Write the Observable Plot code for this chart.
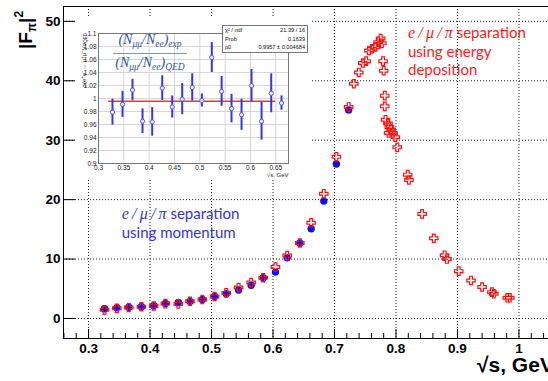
<!DOCTYPE html>
<html>
<head>
<meta charset="utf-8">
<script src="https://cdn.jsdelivr.net/npm/d3@7"></script>
<script src="https://cdn.jsdelivr.net/npm/@observablehq/plot@0.6"></script>
<style>
  html, body { margin: 0; padding: 0; background: #fff; }
  #chart { position: relative; width: 548px; height: 381px; overflow: hidden;
           font-family: "Liberation Sans", Arial, sans-serif; }
  #main { position: absolute; left: 0; top: 0; }
  #main svg text { font-weight: bold; }
  #inset { position: absolute; left: 75px; top: 17px; }
  .abs { position: absolute; white-space: nowrap; }
  .ytitle { left: 10px; top: 49px; font: bold 19px/19px "Liberation Sans", Arial, sans-serif;
            transform: rotate(-90deg); transform-origin: left top; color: #000; }
  .ytitle sub { font-size: 12px; vertical-align: -4px; }
  .ytitle sup { font-size: 12px; vertical-align: 9px; }
  .xtitle { left: 477px; top: 358px; font: bold 21px/14px "Liberation Sans", Arial, sans-serif; color: #000; }
  .note { font: 15px/18.3px Lato, "Open Sans", sans-serif; }
  .note i { font-family: "Liberation Serif", serif; font-style: italic; font-size: 16px; }
  .insetY { left: 79px; top: 95px; width: 62px; text-align: right;
            font: 6px/7px "Liberation Sans", Arial, sans-serif; color: #222;
            transform: rotate(-90deg); transform-origin: left top; }
  .insetY sub { font-size: 4.5px; vertical-align: -1px; }
  .insetY sup { font-size: 4.5px; vertical-align: 2px; }
  .formula { font-family: "Liberation Serif", serif; font-style: italic; color: #2f5597;
             font-size: 14px; text-align: center; width: 90px; left: 105px; }
  .formula sub { font-size: 9.5px; vertical-align: -3px; }
  .fracbar { left: 113px; top: 52.5px; width: 74px; height: 1.6px; background: #8497b0; }
  .stats { left: 222px; top: 25px; width: 80px; height: 26px; border: 1px solid #777; background: #fff;
           font: 5.6px/8.6px "Liberation Sans", Arial, sans-serif; color: #111; padding: 0 2px; box-sizing: content-box; }
  .stats div { display: flex; justify-content: space-between; }
</style>
</head>
<body>
<div id="chart"></div>
<script>
// |F_pi|^2 measured with e/mu/pi separation by momentum (blue dots)
const momEnergy = [0.326, 0.346, 0.3655, 0.386, 0.406, 0.425, 0.446, 0.465, 0.485, 0.505,
                   0.524, 0.544, 0.5645, 0.584, 0.604, 0.623, 0.6436, 0.662, 0.6826, 0.703, 0.723];
const momFF = [1.63, 1.8, 1.9, 1.97, 2.13, 2.52, 2.7, 2.86, 3.2, 3.7,
               4.15, 4.8, 5.6, 6.85, 7.8, 10.2, 12.7, 15.1, 19.75, 26.0, 35.1];

// |F_pi|^2 measured with e/mu/pi separation by energy deposition (red crosses)
const depEnergy = [0.326, 0.346, 0.3655, 0.386, 0.406, 0.425, 0.446, 0.465, 0.485, 0.505,
                   0.524, 0.544, 0.5645, 0.584, 0.604, 0.623, 0.6436, 0.662, 0.6826, 0.703,
                   0.723, 0.7314, 0.7395, 0.746, 0.7515, 0.756, 0.761, 0.7667, 0.771, 0.775,
                   0.777, 0.779, 0.780, 0.7817, 0.7817, 0.783, 0.787, 0.789, 0.792, 0.788,
                   0.795, 0.799, 0.802, 0.819, 0.821, 0.8425, 0.8615, 0.879, 0.883, 0.902,
                   0.922, 0.940, 0.956, 0.959, 0.981, 0.985];
const depFF = [1.45, 1.7, 1.85, 1.97, 2.1, 2.5, 2.45, 2.9, 3.2, 3.7,
               4.3, 5.2, 6.05, 6.85, 8.65, 10.6, 12.7, 16.1, 21.0, 27.2,
               35.6, 39.5, 41.4, 43.0, 43.3, 45.1, 45.4, 45.7, 46.5, 47.1,
               46.3, 43.3, 41.7, 37.5, 35.7, 33.45, 32.8, 32.2, 31.8, 31.2,
               31.2, 30.5, 28.8, 24.2, 23.3, 17.6, 13.5, 10.65, 10.0, 7.96,
               6.4, 5.3, 4.43, 4.15, 3.48, 3.48];

// Inset: (N_mumu/N_ee)_exp / (N_mumu/N_ee)_QED with a constant fit
const ratioEnergy = [0.3276, 0.3474, 0.3671, 0.3869, 0.4060, 0.4258, 0.4455, 0.4652, 0.4850,
                     0.5040, 0.5236, 0.5430, 0.5625, 0.5823, 0.6020, 0.6218, 0.6409, 0.6612];
const ratioValue = [0.979, 0.991, 1.013, 0.965, 0.964, 1.016, 0.987, 0.999, 1.017,
                    0.997, 1.063, 1.011, 0.9845, 0.975, 1.0196, 0.965, 1.008, 0.993];
const ratioError = [0.020, 0.020, 0.0165, 0.019, 0.022, 0.019, 0.017, 0.024, 0.021,
                    0.010, 0.023, 0.023, 0.022, 0.024, 0.025, 0.029, 0.030, 0.011];
const fitP0 = 0.9957;
const fitRange = [0.32, 0.65];
const statsRows = [["χ² / ndf", "21.39 / 16"], ["Prob", "0.1639"], ["p0", "0.9957 ± 0.004684"]];

// Tick values
const xTicks = [0.3, 0.4, 0.5, 0.6, 0.7, 0.8, 0.9, 1.0];
const yTicks = [0, 10, 20, 30, 40, 50];
const insetXTicks = [0.3, 0.35, 0.4, 0.45, 0.5, 0.55, 0.6, 0.65];
const insetYTicks = d3.range(0, 11).map(i => 0.9 + i * 0.02);

const trimFmt = d => String(+d.toFixed(2));

// Open cross marker (outline of a plus sign)
const openCross = {
  draw(ctx, size) {
    const r = Math.sqrt(size / Math.PI), a = r / 3;
    ctx.moveTo(-a, -r); ctx.lineTo(a, -r); ctx.lineTo(a, -a); ctx.lineTo(r, -a);
    ctx.lineTo(r, a); ctx.lineTo(a, a); ctx.lineTo(a, r); ctx.lineTo(-a, r);
    ctx.lineTo(-a, a); ctx.lineTo(-r, a); ctx.lineTo(-r, -a); ctx.lineTo(-a, -a);
    ctx.closePath();
  }
};

const W = 548, H = 381, mL = 63, mR = 0, mT = 6, mB = 43;
const xDom = [0.2593, 1.048], yDom = [-3.37, 52.5];
const xPerPx = (xDom[1] - xDom[0]) / (W - mL - mR);
const yPerPx = (yDom[1] - yDom[0]) / (H - mT - mB);
const minorX = d3.range(13, 53).map(i => i * 0.02)
  .filter(v => !xTicks.some(t => Math.abs(t - v) < 1e-6));

const momentum = momEnergy.map((x, i) => ({x, y: momFF[i]}));
const deposit = depEnergy.map((x, i) => ({x, y: depFF[i]}));
const ratio = ratioEnergy.map((x, i) => ({x, v: ratioValue[i], e: ratioError[i]}));

const dotted = {stroke: "#222", strokeWidth: 1, strokeDasharray: "1,2"};

const main = Plot.plot({
  width: W, height: H,
  marginLeft: mL, marginRight: mR, marginTop: mT, marginBottom: mB,
  x: {domain: xDom}, y: {domain: yDom},
  style: {fontSize: "13.5px", fontFamily: "'Liberation Sans', Arial, sans-serif", color: "#000", background: "#fff"},
  marks: [
    Plot.ruleX(xTicks, {x: d => d, ...dotted}),
    Plot.ruleY(yTicks, {y: d => d, ...dotted}),
    Plot.ruleY([yDom[1]], {y: d => d, stroke: "#000"}),
    Plot.ruleY([yDom[0]], {y: d => d, stroke: "#000"}),
    Plot.ruleX([xDom[0]], {x: d => d, stroke: "#000"}),
    Plot.ruleX(xTicks, {x: d => d, y1: yDom[0], y2: yDom[0] + 9 * yPerPx, stroke: "#000"}),
    Plot.ruleX(minorX, {x: d => d, y1: yDom[0], y2: yDom[0] + 5 * yPerPx, stroke: "#000"}),
    Plot.ruleY(yTicks, {y: d => d, x1: xDom[0], x2: xDom[0] + 12 * xPerPx, stroke: "#000"}),
    Plot.axisX({ticks: xTicks, tickSize: 0, tickPadding: 5, label: null, tickFormat: trimFmt}),
    Plot.axisY({ticks: yTicks, tickSize: 0, tickPadding: 3, label: null}),
    Plot.dot(momentum, {x: "x", y: "y", r: 3.7, fill: "#0b0bf5"}),
    Plot.dot(deposit, {x: "x", y: "y", r: 4.2, symbol: openCross, stroke: "#ff1010", strokeWidth: 1.2, fill: "none"})
  ]
});

const inset = Plot.plot({
  width: 236, height: 163,
  marginLeft: 23, marginRight: 23, marginTop: 16, marginBottom: 17,
  x: {domain: [0.3, 0.675]}, y: {domain: [0.9, 1.1]},
  style: {fontSize: "6.5px", fontFamily: "'Liberation Sans', Arial, sans-serif", color: "#222", background: "#fff"},
  marks: [
    Plot.ruleX(insetXTicks, {x: d => d, stroke: "#d6d6d6"}),
    Plot.ruleY(insetYTicks, {y: d => d, stroke: "#d6d6d6"}),
    Plot.frame({stroke: "#777"}),
    Plot.axisX({ticks: insetXTicks, tickSize: 0, tickPadding: 2, label: null, tickFormat: trimFmt}),
    Plot.axisY({ticks: insetYTicks, tickSize: 0, tickPadding: 2, label: null, tickFormat: trimFmt}),
    Plot.ruleY([fitP0], {y: d => d, x1: fitRange[0], x2: fitRange[1], stroke: "#ff3030", strokeWidth: 1.5}),
    Plot.ruleX(ratio, {x: "x", y1: d => d.v - d.e, y2: d => d.v + d.e, stroke: "#3535e8", strokeWidth: 2}),
    Plot.dot(ratio, {x: "x", y: "v", r: 2.1, stroke: "#5555ff", fill: "#eef", strokeWidth: 1}),
    Plot.text(["√s, GeV"], {frameAnchor: "bottom-right", dy: 13, textAnchor: "end", fontSize: 6})
  ]
});

const chart = document.getElementById("chart");
const mainDiv = document.createElement("div"); mainDiv.id = "main"; mainDiv.append(main);
const insetDiv = document.createElement("div"); insetDiv.id = "inset"; insetDiv.append(inset);
chart.append(mainDiv, insetDiv);

function addHTML(cls, html, style) {
  const d = document.createElement("div");
  d.className = "abs " + cls;
  d.innerHTML = html;
  if (style) Object.assign(d.style, style);
  chart.append(d);
  return d;
}

addHTML("ytitle", "|F<sub>π</sub>|<sup>2</sup>");
addHTML("xtitle", "√s, GeV");
addHTML("insetY", "σ(e<sup>+</sup>e<sup>−</sup>→ μ<sup>+</sup>μ<sup>−</sup>)/σ<sub>QED</sub>");
addHTML("formula", "(N<sub>μμ</sub>/N<sub>ee</sub>)<sub>exp</sub>", {top: "32px"});
addHTML("fracbar", "");
addHTML("formula", "(N<sub>μμ</sub>/N<sub>ee</sub>)<sub>QED</sub>", {top: "55px"});
addHTML("stats", statsRows.map(([k, v]) => `<div><span>${k}</span><span>${v}</span></div>`).join(""));

const sep = '<i>e\u2009/\u2009μ\u2009/\u2009π</i>';
addHTML("note", `${sep} separation<br>using energy<br>deposition`, {left: "408px", top: "22.5px", color: "#ff1a1a"});
addHTML("note", `${sep} separation<br>using momentum`, {left: "121.7px", top: "204px", color: "#3535d5"});
</script>
</body>
</html>
